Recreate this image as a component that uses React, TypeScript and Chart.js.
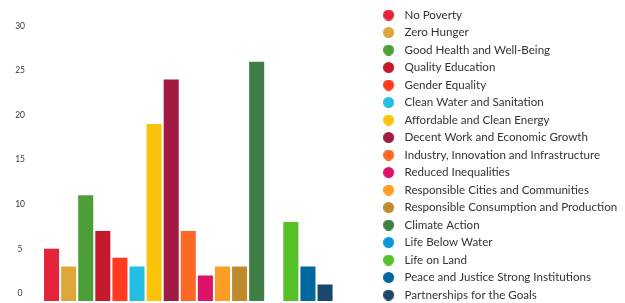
import React, { useEffect, useRef } from "react";
import { Chart, registerables } from "chart.js";

Chart.register(...registerables);

const GOALS = [
  "No Poverty",
  "Zero Hunger",
  "Good Health and Well-Being",
  "Quality Education",
  "Gender Equality",
  "Clean Water and Sanitation",
  "Affordable and Clean Energy",
  "Decent Work and Economic Growth",
  "Industry, Innovation and Infrastructure",
  "Reduced Inequalities",
  "Responsible Cities and Communities",
  "Responsible Consumption and Production",
  "Climate Action",
  "Life Below Water",
  "Life on Land",
  "Peace and Justice Strong Institutions",
  "Partnerships for the Goals",
];

const COUNTS = [5, 3, 11, 7, 4, 3, 19, 24, 7, 2, 3, 3, 26, 0, 8, 3, 1];

const COLORS = [
  "#E5243B",
  "#DDA63A",
  "#4C9F38",
  "#C5192D",
  "#FF3A21",
  "#26BDE2",
  "#FCC30B",
  "#A21942",
  "#FD6925",
  "#DD1367",
  "#FD9D24",
  "#BF8B2E",
  "#3F7E44",
  "#0A97D9",
  "#56C02B",
  "#00689D",
  "#19486A",
];

const Y_TICKS = [0, 5, 10, 15, 20, 25, 30];
const Y_MIN = -1.3;
const Y_MAX = 32.35;
const BAR_BASE = -0.86;

const FONT = "Lato, 'Open Sans', sans-serif";
const LEGEND_FONT_SIZE = 11.6;
const LEGEND_PAD = 17.5 - LEGEND_FONT_SIZE;

function makeDot(color: string) {
  const c = document.createElement("canvas");
  c.width = 16;
  c.height = 11;
  const ctx = c.getContext("2d")!;
  ctx.fillStyle = color;
  ctx.beginPath();
  ctx.arc(5.5, 5.5, 5.5, 0, Math.PI * 2);
  ctx.fill();
  return c;
}

export default function App() {
  const ref = useRef<HTMLCanvasElement | null>(null);

  useEffect(() => {
    if (!ref.current) return;
    const dots = COLORS.map(makeDot);
    const chart = new Chart(ref.current, {
      type: "bar",
      data: {
        labels: GOALS,
        datasets: [
          {
            label: "SDG",
            data: COUNTS,
            backgroundColor: (c: any) =>
              c.raw === 0 ? "rgba(0,0,0,0)" : COLORS[c.dataIndex],
            borderWidth: 0,
            base: BAR_BASE,
            categoryPercentage: 1,
            barPercentage: 0.88,
          } as any,
        ],
      },
      options: {
        responsive: false,
        animation: false,
        layout: { padding: 0 },
        scales: {
          x: { display: false },
          y: {
            type: "linear",
            position: "left",
            min: Y_MIN,
            max: Y_MAX,
            afterBuildTicks: (s: any) => {
              s.ticks = Y_TICKS.map((v) => ({ value: v }));
            },
            afterFit: (s: any) => {
              s.width = 43;
            },
            grid: { display: false, drawTicks: true, tickLength: 18 },
            border: { display: false },
            ticks: {
              padding: 0,
              crossAlign: "center",
              color: "#3a3a3a",
              font: { family: FONT, size: 8.5, lineHeight: 1.2 },
            },
          },
          y2: {
            type: "linear",
            position: "right",
            display: true,
            afterFit: (s: any) => {
              s.width = 44;
            },
            grid: { display: false, drawTicks: false },
            border: { display: false },
            ticks: { display: false },
          },
        },
        plugins: {
          tooltip: { enabled: false },
          legend: {
            position: "right",
            align: "center",
            maxWidth: 241.5 + LEGEND_PAD,
            labels: {
              usePointStyle: true,
              pointStyleWidth: 21 - LEGEND_FONT_SIZE / 2,
              padding: LEGEND_PAD,
              color: "#333",
              font: { family: FONT, size: LEGEND_FONT_SIZE },
              generateLabels: () =>
                GOALS.map((text, i) => ({
                  text,
                  fillStyle: COLORS[i],
                  strokeStyle: COLORS[i],
                  lineWidth: 0,
                  pointStyle: dots[i] as any,
                  hidden: false,
                  index: i,
                  datasetIndex: 0,
                  fontColor: "#333",
                })),
            },
          },
        },
      },
    });
    return () => chart.destroy();
  }, []);

  return (
    <div
      style={{
        position: "fixed",
        left: 0,
        top: 0,
        width: 625,
        height: 303,
        overflow: "hidden",
        background: "#fff",
      }}
    >
      <canvas ref={ref} width={625} height={310} style={{ display: "block" }} />
    </div>
  );
}
